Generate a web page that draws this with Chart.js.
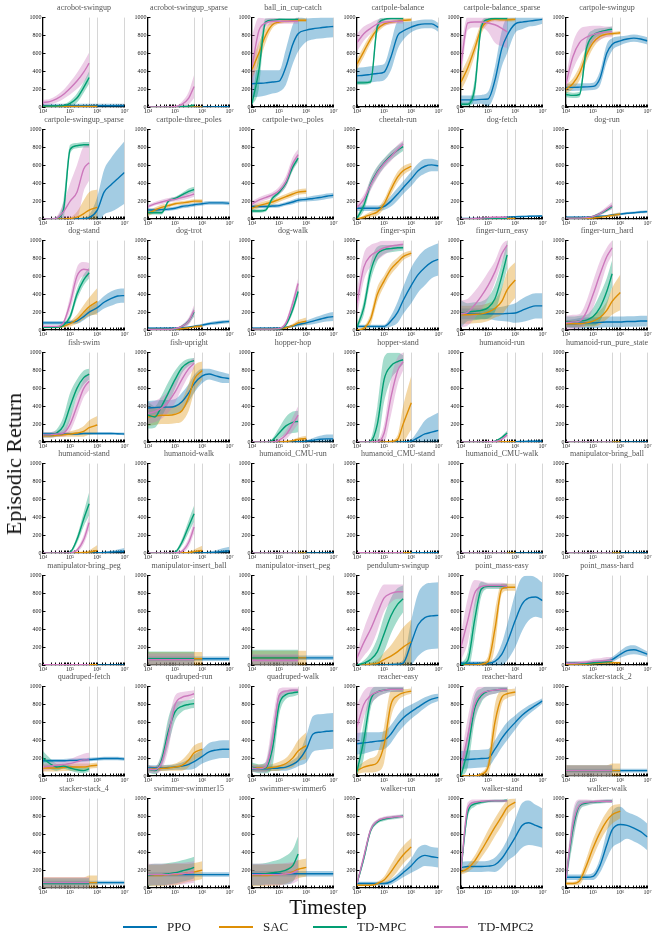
<!DOCTYPE html>
<html><head><meta charset="utf-8">
<script src="https://cdn.jsdelivr.net/npm/chart.js@4.4.1/dist/chart.umd.min.js"></script>
<style>
html,body{margin:0;padding:0;background:#fff;}
body{width:658px;height:939px;position:relative;overflow:hidden;font-family:"Liberation Serif","DejaVu Serif",serif;}
canvas{position:absolute;}
.ttl{position:absolute;font-size:8px;line-height:10px;color:#555;white-space:nowrap;transform:translateX(-50%);}
.ylab{position:absolute;font-size:22px;line-height:24px;color:#111;white-space:nowrap;transform:translate(-50%,-50%) rotate(-90deg);}
.xlab{position:absolute;font-size:21px;line-height:24px;color:#111;white-space:nowrap;transform:translate(-50%,-50%);}
.lg{position:absolute;height:2px;}
.lgt{position:absolute;font-size:13px;line-height:16px;color:#222;white-space:nowrap;transform:translateY(-50%);}
</style></head><body>
<script>
const TASKS = ['acrobot-swingup','acrobot-swingup_sparse','ball_in_cup-catch','cartpole-balance','cartpole-balance_sparse','cartpole-swingup',
'cartpole-swingup_sparse','cartpole-three_poles','cartpole-two_poles','cheetah-run','dog-fetch','dog-run',
'dog-stand','dog-trot','dog-walk','finger-spin','finger-turn_easy','finger-turn_hard',
'fish-swim','fish-upright','hopper-hop','hopper-stand','humanoid-run','humanoid-run_pure_state',
'humanoid-stand','humanoid-walk','humanoid_CMU-run','humanoid_CMU-stand','humanoid_CMU-walk','manipulator-bring_ball',
'manipulator-bring_peg','manipulator-insert_ball','manipulator-insert_peg','pendulum-swingup','point_mass-easy','point_mass-hard',
'quadruped-fetch','quadruped-run','quadruped-walk','reacher-easy','reacher-hard','stacker-stack_2',
'stacker-stack_4','swimmer-swimmer15','swimmer-swimmer6','walker-run','walker-stand','walker-walk'];

const ALGOS = ['PPO','SAC','TD-MPC','TD-MPC2'];
const STEPS = [10000,17783,31623,56234,100000,177828,316228,500000,1000000,1778279,3162278,5623413,10000000];
const X_TICK_VALUES = [10000,100000,1000000,10000000];
const X_TICK_LABELS = ['10\u2074','10\u2075','10\u2076','10\u2077'];
const Y_TICKS = [0,200,400,600,800,1000];
const MARKER_STEPS = [500000,1000000,10000000];

const PPO_MEAN = [
[15,15,15,15,15,15,15,15,15,15,15,15,15],
[0,0,0,0,0,0,0,0,0,0,2,3,5],
[260,265,270,280,290,450,700,820,860,875,885,895,900],
[350,355,365,375,390,560,800,850,895,920,930,930,890],
[80,80,80,85,90,300,650,800,930,950,960,970,980],
[220,220,222,225,230,320,600,700,740,760,770,760,740],
[0,0,0,0,0,0,5,15,100,300,380,450,520],
[100,100,105,110,120,140,150,160,170,180,180,180,175],
[140,140,140,145,150,170,190,210,220,230,240,255,265],
[120,120,120,120,140,200,280,350,450,540,590,605,595],
[5,5,5,5,8,10,15,20,25,28,30,32,35],
[20,20,20,20,25,30,35,45,55,65,70,78,82],
[80,80,80,80,85,100,150,200,250,310,350,380,385],
[20,20,20,20,20,25,30,40,55,70,80,90,95],
[20,20,20,20,20,30,45,60,80,100,120,140,150],
[40,40,40,40,40,100,200,330,500,620,700,760,790],
[180,180,180,180,180,180,180,185,190,220,250,270,270],
[70,70,75,80,80,85,90,90,90,95,95,100,100],
[90,90,90,90,90,90,95,95,95,95,95,92,90],
[380,385,390,390,400,450,550,650,740,760,740,720,710],
[0,0,0,0,0,0,0,2,10,20,30,35,35],
[0,0,0,0,0,0,0,2,10,50,90,110,130],
[0,0,0,0,0,0,1,2,4,6,8,9,10],
[1,1,1,1,1,1,1,1,1,1,1,1,1],
[0,0,0,0,0,0,0,0,2,5,10,15,20],
[0,0,0,0,0,0,0,0,2,5,10,18,25],
[1,1,1,1,1,1,1,1,1,1,1,1,1],
[3,3,3,3,3,3,3,3,3,3,3,3,3],
[1,1,1,1,1,1,1,1,1,1,1,1,1],
[0,0,0,0,0,0,0,0,0,0,0,0,0],
[0,0,0,0,0,0,0,0,0,0,0,0,0],
[70,70,70,70,70,70,70,70,70,70,70,70,70],
[80,80,80,80,80,80,80,80,80,80,80,80,80],
[0,0,0,0,0,5,10,20,250,450,530,550,555],
[20,20,20,20,20,40,120,250,500,680,750,760,720],
[20,20,20,20,25,30,40,60,120,160,170,150,120],
[170,170,170,170,175,175,180,185,190,195,195,195,190],
[90,90,90,95,100,110,130,160,220,270,290,300,300],
[80,80,80,85,90,100,130,170,300,470,490,500,505],
[360,370,380,390,400,470,580,650,720,770,820,860,880],
[180,185,190,195,200,300,420,500,600,680,740,790,840],
[60,60,60,60,60,60,60,60,60,60,60,60,60],
[60,60,60,60,60,60,60,60,60,60,60,60,60],
[150,150,150,150,150,150,150,150,150,150,150,150,150],
[160,160,160,160,160,160,160,160,160,160,160,160,160],
[50,50,50,50,50,70,120,170,250,330,365,350,340],
[230,240,240,240,245,260,330,420,570,700,730,700,670],
[120,120,120,120,130,250,480,650,710,700,670,630,570]];

const PPO_SPREAD = [
[20,20,20,20,20,20,20,20,20,20,20,20,20],
[3,3,3,3,3,3,3,3,3,3,3,3,3],
[150,150,140,130,120,200,220,200,130,120,120,120,120],
[90,90,90,90,90,150,150,100,60,50,50,50,50],
[50,50,50,50,80,150,200,200,100,80,60,60,50],
[40,40,40,40,40,80,100,70,50,40,40,40,40],
[2,2,2,2,2,2,10,30,150,250,300,330,350],
[20,20,20,20,20,20,20,20,20,20,20,20,20],
[20,20,20,20,20,20,25,25,25,30,30,30,30],
[30,30,30,30,40,60,70,70,80,80,80,70,60],
[5,5,5,5,5,5,5,5,8,8,10,10,10],
[8,8,8,8,8,8,10,10,12,12,15,15,15],
[20,20,20,20,20,30,40,50,60,70,80,80,80],
[10,10,10,10,10,10,10,12,15,18,20,20,20],
[10,10,10,10,10,12,15,20,25,35,40,45,50],
[20,20,20,20,20,60,120,150,200,200,200,180,180],
[60,60,60,60,60,70,80,90,110,130,140,140,140],
[40,50,60,60,60,60,60,60,60,60,60,60,60],
[15,15,15,15,15,15,15,15,15,15,15,15,15],
[80,80,80,80,80,100,100,100,80,60,60,60,50],
[0,0,0,0,0,0,0,3,10,25,40,50,50],
[0,0,0,0,0,0,0,5,20,80,150,180,200],
[1,1,1,1,1,1,2,3,5,6,8,9,10],
[1,1,1,1,1,1,1,1,1,1,1,1,1],
[0,0,0,0,0,0,0,1,3,8,15,25,35],
[0,0,0,0,0,0,0,1,3,8,20,35,45],
[1,1,1,1,1,1,1,1,1,1,1,1,1],
[2,2,2,2,2,2,2,2,2,2,2,2,2],
[1,1,1,1,1,1,1,1,1,1,1,1,1],
[1,1,1,1,1,1,1,1,1,1,1,1,1],
[1,1,1,1,1,1,1,1,1,1,1,1,1],
[25,25,25,25,25,25,25,25,25,25,25,25,25],
[25,25,25,25,25,25,25,25,25,25,25,25,25],
[0,0,0,0,5,10,20,40,250,350,370,370,370],
[20,20,20,20,20,40,120,200,300,300,250,220,200],
[10,10,10,10,10,15,20,30,40,50,50,40,30],
[20,20,20,20,20,20,20,20,20,20,20,20,20],
[30,30,30,30,30,40,60,80,80,100,100,100,100],
[30,30,30,30,30,40,50,60,150,200,200,200,200],
[120,120,110,100,100,100,100,100,80,70,60,50,40],
[100,100,100,100,100,100,100,100,80,60,50,40,30],
[20,20,20,20,20,20,20,20,20,20,20,20,20],
[20,20,20,20,20,20,20,20,20,20,20,20,20],
[25,25,25,25,25,25,25,25,25,25,25,25,25],
[30,30,30,30,30,30,30,30,30,30,30,30,30],
[20,20,20,20,20,30,40,50,80,120,120,110,110],
[60,60,60,60,60,80,100,120,200,250,250,230,220],
[30,30,30,30,40,80,150,200,200,150,150,150,150]];

const SAC_MEAN = [
[5,5,5,5,5,5,5,5,5],
[0,0,0,0,0,0,0,0,0],
[420,600,800,920,950,960,965,970,970],
[480,620,760,870,930,950,960,970,975],
[280,440,650,880,960,980,975,975,980],
[200,260,380,580,720,790,815,820,830],
[0,0,0,0,5,20,60,100,130],
[60,100,130,150,170,180,190,200,200],
[120,150,170,190,220,250,280,300,310],
[0,20,50,80,170,330,470,540,590],
[0,0,0,1,2,3,4,5,6],
[5,5,5,5,10,20,30,40,55],
[30,30,30,40,70,120,200,260,320],
[5,5,5,5,10,15,25,35,45],
[10,10,10,10,15,25,50,80,100],
[0,20,120,400,550,680,760,820,860],
[170,170,175,180,200,240,320,450,560],
[70,70,70,80,100,140,220,320,420],
[70,70,75,80,90,100,120,160,190],
[280,290,300,300,310,350,500,700,800],
[0,0,0,0,0,5,15,30,40],
[0,0,0,0,0,5,30,200,440],
[0,0,0,0,1,1,2,2,3],
[0,0,0,0,0,0,0,0,0],
[0,0,0,0,0,2,5,10,30],
[0,0,0,0,0,2,5,15,30],
[1,1,1,1,1,1,1,1,1],
[3,3,3,3,3,3,3,3,3],
[1,1,1,1,1,1,1,1,1],
[1,1,1,1,1,1,1,1,1],
[2,2,2,2,2,2,2,2,2],
[70,70,70,70,70,70,70,70,70],
[80,80,80,80,80,80,80,80,80],
[0,0,10,20,60,100,150,200,260],
[0,0,0,10,40,400,850,870,870],
[10,10,10,10,15,20,25,25,25],
[90,90,90,95,100,100,100,110,120],
[80,80,85,90,100,120,180,260,300],
[90,90,90,95,110,140,200,280,340],
[60,100,120,150,350,800,900,930,950],
[0,0,0,20,100,600,880,920,940],
[60,60,60,60,60,60,60,60,60],
[60,60,60,60,60,60,60,60,60],
[140,140,140,150,150,160,170,180,200],
[140,140,140,145,150,160,180,210,230],
[30,30,30,50,90,180,290,370,460],
[180,220,300,420,550,680,800,900,960],
[50,50,80,250,450,620,750,820,860]];

const SAC_SPREAD = [
[5,5,5,5,5,5,5,5,5],
[1,1,1,1,1,1,1,1,1],
[100,120,80,40,20,20,20,20,20],
[60,60,50,40,30,20,20,20,20],
[100,100,80,60,30,20,20,20,20],
[50,60,80,80,60,40,30,20,20],
[0,0,0,0,10,60,150,200,200],
[30,30,30,20,20,20,20,20,20],
[30,30,30,30,30,30,30,30,30],
[10,20,30,40,50,60,60,50,40],
[2,2,2,2,2,2,2,2,2],
[5,5,5,5,8,10,15,20,20],
[10,10,10,10,30,50,80,100,150],
[5,5,5,5,8,10,12,15,15],
[5,5,5,5,8,10,20,30,40],
[10,20,60,80,60,60,50,40,30],
[100,100,100,100,100,100,150,200,200],
[40,40,40,40,60,80,100,150,200],
[20,20,20,20,30,40,60,80,100],
[100,100,100,100,100,120,150,150,100],
[0,0,0,0,2,5,10,20,30],
[0,0,0,0,2,10,50,200,300],
[1,1,1,1,1,1,1,1,1],
[1,1,1,1,1,1,1,1,1],
[0,0,0,0,1,3,8,20,60],
[0,0,0,0,1,3,8,25,50],
[1,1,1,1,1,1,1,1,1],
[2,2,2,2,2,2,2,2,2],
[1,1,1,1,1,1,1,1,1],
[1,1,1,1,1,1,1,1,1],
[1,1,1,1,1,1,1,1,1],
[75,75,75,75,75,75,75,75,75],
[80,80,80,80,80,80,80,80,80],
[5,10,20,40,80,120,180,220,250],
[5,5,10,20,60,200,60,40,40],
[10,10,10,10,10,10,10,10,10],
[40,40,40,40,40,40,40,30,30],
[30,30,30,30,40,60,80,80,80],
[40,40,40,40,50,60,100,120,150],
[40,60,80,100,200,150,60,40,30],
[5,5,5,20,80,200,80,50,40],
[60,60,60,60,60,60,60,80,80],
[60,60,60,60,60,60,60,80,80],
[120,120,120,120,120,110,100,100,100],
[120,120,120,120,120,110,100,100,100],
[10,10,10,20,40,80,100,100,100],
[30,40,60,80,100,100,100,80,50],
[20,20,40,80,100,100,100,100,80]];

const TDMPC_MEAN = [
[10,10,12,15,40,100,220,330],
[0,0,0,0,2,5,10,20],
[40,400,950,970,980,980,980,980],
[270,270,280,900,980,990,990,990],
[30,30,200,900,980,990,990,990],
[140,130,140,650,800,840,860,870],
[0,0,10,100,780,820,830,830],
[70,70,70,200,230,270,310,330],
[90,90,100,230,300,400,580,680],
[10,150,390,530,630,710,770,810],
[0,0,0,0,5,5,5,5],
[10,10,10,15,30,60,100,140],
[30,30,30,50,150,400,560,640],
[5,5,5,5,10,40,100,200],
[10,10,10,10,12,60,230,430],
[30,250,650,850,900,910,920,920],
[180,200,210,220,250,350,600,840],
[90,90,100,110,150,250,430,630],
[80,80,100,180,400,600,720,760],
[300,280,400,550,700,830,890,910],
[0,0,0,20,100,180,220,230],
[0,0,10,200,700,850,900,920],
[0,0,0,0,2,10,50,100],
[0,0,0,0,0,0,0,0],
[0,0,0,0,10,150,380,550],
[0,0,0,0,10,120,300,440],
[1,1,1,1,1,1,1,1],
[3,3,3,3,3,3,3,3],
[1,1,1,1,1,1,1,1],
[1,1,1,1,1,1,1,1],
[2,2,2,2,2,2,2,2],
[70,70,70,70,70,70,70,70],
[80,80,80,80,80,80,80,80],
[0,20,60,150,350,550,680,740],
[0,50,500,850,880,880,880,880],
[20,20,20,20,25,30,35,40],
[200,140,100,110,90,70,60,80],
[80,60,180,500,720,780,800,810],
[100,80,90,300,800,910,930,940],
[50,400,850,940,960,970,970,970],
[0,300,750,900,950,960,970,970],
[60,60,60,60,60,60,60,60],
[50,50,50,50,50,50,50,50],
[140,150,150,160,170,190,210,230],
[150,150,160,170,180,200,250,380],
[50,330,640,740,770,785,795,805],
[200,850,940,960,970,975,975,980],
[100,650,920,950,960,965,970,970]];

const TDMPC_SPREAD = [
[10,10,10,15,30,50,60,70],
[0,0,0,0,2,5,10,15],
[30,200,40,20,15,10,10,10],
[20,20,20,60,20,10,10,10],
[20,20,100,60,20,10,10,10],
[30,30,30,100,60,40,30,30],
[5,5,10,100,50,30,30,30],
[20,20,20,20,20,20,30,30],
[20,20,20,30,30,40,40,40],
[20,60,60,60,50,50,50,50],
[2,2,2,2,3,3,3,3],
[5,5,5,5,10,15,20,25],
[10,10,10,20,40,60,60,60],
[3,3,3,3,5,15,30,50],
[5,5,5,5,8,20,40,50],
[20,80,100,80,50,40,40,30],
[150,100,100,100,120,150,150,150],
[60,60,60,60,100,150,150,150],
[30,30,40,100,150,100,80,60],
[150,120,120,120,100,60,40,30],
[0,0,0,20,60,100,120,120],
[0,0,20,200,250,150,100,50],
[1,1,1,1,2,5,15,25],
[1,1,1,1,1,1,1,1],
[0,0,0,0,10,40,80,130],
[0,0,0,0,10,40,70,90],
[1,1,1,1,1,1,1,1],
[1,1,1,1,1,1,1,1],
[1,1,1,1,1,1,1,1],
[1,1,1,1,1,1,1,1],
[1,1,1,1,1,1,1,1],
[80,80,80,80,80,80,80,80],
[90,90,90,90,90,90,90,90],
[5,30,80,150,200,200,180,150],
[10,100,200,80,30,30,30,30],
[20,20,20,20,25,25,30,30],
[80,60,40,30,30,30,30,30],
[40,40,80,150,100,60,50,50],
[50,50,60,200,120,50,40,30],
[40,200,100,60,40,30,30,30],
[10,200,150,80,50,40,30,30],
[60,60,60,60,60,60,60,60],
[60,60,60,60,60,60,60,60],
[120,120,120,120,120,120,120,120],
[120,120,120,130,140,160,180,200],
[20,40,30,20,20,20,20,20],
[50,60,30,20,15,15,15,15],
[50,150,60,30,20,20,20,20]];

const TDMPC2_MEAN = [
[50,60,90,140,210,290,390,490],
[0,0,0,0,5,30,100,230],
[450,850,940,960,960,960,960,960],
[720,820,880,930,950,955,960,960],
[480,940,950,950,940,920,880,840],
[260,560,720,780,810,830,840,840],
[0,0,10,80,200,300,560,630],
[140,170,190,210,220,240,260,280],
[170,210,240,270,320,420,620,720],
[130,220,380,520,620,700,780,840],
[0,0,5,10,15,20,20,20],
[10,10,10,15,30,60,110,150],
[40,40,40,80,300,600,680,670],
[5,5,5,5,15,40,100,220],
[10,10,10,10,15,80,300,520],
[300,700,830,880,920,940,950,960],
[180,200,280,380,500,650,850,950],
[80,90,100,200,400,620,820,920],
[80,80,90,100,200,400,600,680],
[320,340,380,450,560,700,820,880],
[0,0,0,0,20,80,200,300],
[0,0,0,5,100,500,800,900],
[0,0,0,0,2,5,30,80],
[0,0,0,0,0,0,0,0],
[0,0,0,0,3,30,150,340],
[0,0,0,0,3,20,120,290],
[1,1,1,1,1,1,1,1],
[3,3,3,3,3,3,3,3],
[1,1,1,1,1,1,1,1],
[1,1,1,1,1,1,1,1],
[2,2,2,2,2,2,2,2],
[60,60,60,60,60,60,60,60],
[50,50,50,50,50,50,50,50],
[80,250,400,580,750,800,820,820],
[200,500,800,880,890,890,890,880],
[20,20,25,30,40,45,50,50],
[100,110,120,130,140,160,180,180],
[80,70,150,450,800,880,900,920],
[90,80,100,400,900,950,960,960],
[550,800,900,940,960,970,970,970],
[100,450,800,920,950,960,970,970],
[60,60,60,60,60,60,60,60],
[60,60,60,60,60,60,60,60],
[150,150,150,150,160,160,170,180],
[150,150,150,150,150,160,170,200],
[50,350,650,750,780,790,800,800],
[200,900,960,970,975,975,975,975],
[100,700,930,960,965,970,970,970]];

const TDMPC2_SPREAD = [
[30,30,40,50,70,90,110,120],
[0,0,0,0,5,30,70,130],
[350,150,50,40,30,30,30,30],
[100,80,60,50,40,30,30,30],
[200,80,60,60,100,200,200,180],
[80,150,150,120,100,80,60,60],
[10,10,20,100,200,300,250,200],
[20,20,25,25,25,30,30,30],
[30,30,30,30,40,60,70,60],
[40,50,60,60,50,50,50,40],
[2,2,5,8,10,12,12,12],
[5,5,5,8,12,20,30,40],
[10,10,10,20,80,100,80,80],
[3,3,3,3,8,20,40,60],
[5,5,5,5,8,25,50,60],
[150,150,120,100,80,60,50,40],
[150,150,150,150,150,120,100,60],
[80,80,80,120,150,150,100,80],
[30,30,30,40,80,100,100,100],
[120,120,120,120,120,100,80,60],
[0,0,0,0,20,50,80,100],
[0,0,0,10,100,200,150,100],
[1,1,1,1,2,5,15,25],
[1,1,1,1,1,1,1,1],
[0,0,0,0,5,20,50,80],
[0,0,0,0,5,20,50,70],
[1,1,1,1,1,1,1,1],
[1,1,1,1,1,1,1,1],
[1,1,1,1,1,1,1,1],
[1,1,1,1,1,1,1,1],
[1,1,1,1,1,1,1,1],
[70,70,70,70,70,70,70,70],
[70,70,70,70,70,70,70,70],
[80,150,200,200,150,100,80,80],
[150,250,150,60,30,30,30,30],
[20,20,20,20,30,30,40,40],
[40,40,40,40,50,60,70,80],
[40,40,80,150,100,60,50,40],
[40,40,60,200,80,40,30,30],
[250,150,100,60,40,30,30,30],
[100,200,150,80,50,40,30,30],
[60,60,60,60,60,60,60,60],
[60,60,60,60,60,60,60,60],
[120,120,120,120,120,120,120,120],
[120,120,120,120,120,120,120,120],
[20,40,30,20,20,20,20,20],
[50,60,30,20,15,15,15,15],
[50,150,60,30,20,20,20,20]];

const COLORS = ['#0173b2','#de8f05','#029e73','#cc78bc'];
const SERIES = [
  {mean: PPO_MEAN, spread: PPO_SPREAD},
  {mean: SAC_MEAN, spread: SAC_SPREAD},
  {mean: TDMPC_MEAN, spread: TDMPC_SPREAD},
  {mean: TDMPC2_MEAN, spread: TDMPC2_SPREAD}
];

const FONT = '"Liberation Serif","DejaVu Serif",serif';
Chart.defaults.font.family = FONT;

function rgba(hex, a) {
  const n = parseInt(hex.slice(1), 16);
  return 'rgba(' + ((n >> 16) & 255) + ',' + ((n >> 8) & 255) + ',' + (n & 255) + ',' + a + ')';
}
function near(v, t) { return Math.abs(Math.log10(v) - Math.log10(t)) < 1e-6; }

const PLOT_W = 82, PLOT_H = 92, PAD_L = 32, PAD_T = 5, PAD_R = 7, PAD_B = 12;
const COL0 = 43, COL_STEP = 104.5, ROW0 = 15, ROW_STEP = 111.5;

TASKS.forEach((task, i) => {
  const r = Math.floor(i / 6), c = i % 6;
  const plotL = Math.round(COL0 + COL_STEP * c);
  const plotT = Math.round(ROW0 + ROW_STEP * r);

  const cv = document.createElement('canvas');
  cv.width = PAD_L + PLOT_W + PAD_R;
  cv.height = PAD_T + PLOT_H + PAD_B;
  cv.style.left = (plotL - PAD_L) + 'px';
  cv.style.top = (plotT - PAD_T) + 'px';
  cv.style.width = cv.width + 'px';
  cv.style.height = cv.height + 'px';
  document.body.appendChild(cv);

  const t = document.createElement('div');
  t.className = 'ttl';
  t.textContent = task;
  t.style.left = (plotL + PLOT_W / 2) + 'px';
  t.style.top = (plotT - 12) + 'px';
  document.body.appendChild(t);

  const datasets = [];
  SERIES.forEach((s, k) => {
    const m = s.mean[i], sp = s.spread[i];
    const up = m.map((v, j) => ({x: STEPS[j], y: v + sp[j]}));
    const lo = m.map((v, j) => ({x: STEPS[j], y: v - sp[j]}));
    datasets.push({label: ALGOS[k] + ' band', data: up, fill: '+1', backgroundColor: rgba(COLORS[k], 0.36),
      borderColor: 'rgba(0,0,0,0)', borderWidth: 0, pointRadius: 0, cubicInterpolationMode: 'monotone', order: 20 - 2 * k});
    datasets.push({label: ALGOS[k] + ' low', data: lo, fill: false, backgroundColor: 'rgba(0,0,0,0)',
      borderColor: 'rgba(0,0,0,0)', borderWidth: 0, pointRadius: 0, cubicInterpolationMode: 'monotone', order: 19 - 2 * k});
  });
  SERIES.forEach((s, k) => {
    const m = s.mean[i];
    datasets.push({label: ALGOS[k], data: m.map((v, j) => ({x: STEPS[j], y: v})), fill: false,
      borderColor: COLORS[k], borderWidth: 1.4, pointRadius: 0, cubicInterpolationMode: 'monotone', order: 8 - k});
  });

  new Chart(cv, {
    type: 'line',
    data: {datasets},
    options: {
      responsive: false, animation: false, devicePixelRatio: 1,
      events: [],
      layout: {padding: {left: 0, top: PAD_T, right: PAD_R, bottom: 0}, autoPadding: false},
      plugins: {legend: {display: false}, tooltip: {enabled: false}, title: {display: false}},
      scales: {
        x: {
          type: 'logarithmic', min: 10000, max: 10000000,
          afterFit(s) { s.height = PAD_B; },
          border: {display: true, color: '#000', width: 1.3},
          grid: {
            display: true, drawOnChartArea: true, drawTicks: true, tickLength: -2.5, lineWidth: 1,
            color: ctx => (ctx.tick && MARKER_STEPS.some(m => near(ctx.tick.value, m))) ? '#d6d6d6' : 'rgba(0,0,0,0)',
            tickColor: '#000'
          },
          ticks: {
            autoSkip: false, maxRotation: 0, minRotation: 0, padding: 3.5, color: '#222',
            font: {family: FONT, size: 6},
            callback: v => { const idx = X_TICK_VALUES.findIndex(m => near(v, m)); return idx >= 0 ? X_TICK_LABELS[idx] : ''; }
          }
        },
        y: {
          min: 0, max: 1000,
          afterFit(s) { s.width = PAD_L; },
          afterBuildTicks(s) { s.ticks = Y_TICKS.map(v => ({value: v})); },
          border: {display: true, color: '#000', width: 1.3},
          grid: {drawOnChartArea: false, drawTicks: true, tickLength: -2.5, tickColor: '#000'},
          ticks: {padding: 4, color: '#222', font: {family: FONT, size: 6}, callback: v => String(v)}
        }
      }
    }
  });
});

// axis titles
const yl = document.createElement('div');
yl.className = 'ylab'; yl.textContent = 'Episodic Return';
yl.style.left = '14px'; yl.style.top = '464px';
document.body.appendChild(yl);
const xl = document.createElement('div');
xl.className = 'xlab'; xl.textContent = 'Timestep';
xl.style.left = '328px'; xl.style.top = '907px';
document.body.appendChild(xl);

// legend
const LEGEND_X = [123, 219, 313, 434];
ALGOS.forEach((a, k) => {
  const ln = document.createElement('div');
  ln.className = 'lg';
  ln.style.left = LEGEND_X[k] + 'px'; ln.style.top = '926px'; ln.style.width = '34px';
  ln.style.background = COLORS[k];
  document.body.appendChild(ln);
  const tx = document.createElement('div');
  tx.className = 'lgt'; tx.textContent = a;
  tx.style.left = (LEGEND_X[k] + 44) + 'px'; tx.style.top = '927px';
  document.body.appendChild(tx);
});
</script>
</body></html>
